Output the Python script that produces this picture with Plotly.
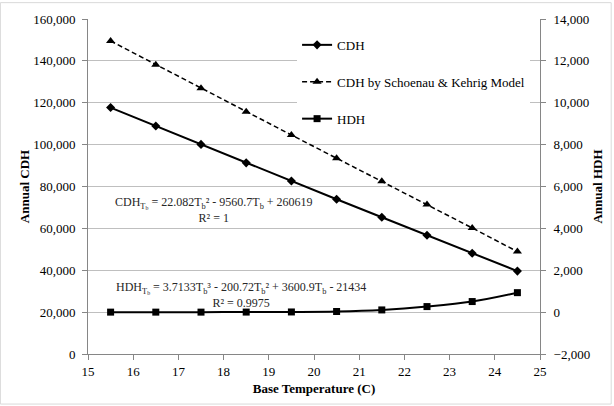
import plotly.graph_objects as go

base_temp = [15.5, 16.5, 17.5, 18.5, 19.5, 20.5, 21.5, 22.5, 23.5, 24.5]
cdh = [117700, 108900, 100100, 91300, 82600, 73900, 65300, 56700, 48100, 39600]
cdh_schoenau = [149500, 138200, 126900, 115700, 104600, 93500, 82500, 71400, 60200, 48900]
hdh = [0, 0, 0, 2, 8, 30, 105, 265, 505, 930]

x_ticks = list(range(15, 26))

FONT = "Liberation Serif"

fig = go.Figure()
fig.add_trace(go.Scatter(
    x=base_temp, y=cdh, name="CDH", mode="lines+markers",
    line=dict(color="black", width=2),
    marker=dict(symbol="diamond", size=7, color="black"),
    legendgroup="a"))
fig.add_trace(go.Scatter(
    x=base_temp, y=cdh_schoenau, name="CDH by Schoenau & Kehrig Model",
    mode="lines+markers",
    line=dict(color="black", width=1.5, dash="5px,3px"),
    marker=dict(symbol="triangle-up", size=8, color="black"),
    legendgroup="b"))
fig.add_trace(go.Scatter(
    x=base_temp, y=hdh, name="HDH", mode="lines+markers", yaxis="y2",
    line=dict(color="black", width=2, shape="spline"),
    marker=dict(symbol="square", size=7, color="black"),
    legendgroup="c"))

fig.add_annotation(
    xref="paper", yref="paper", x=(215 - 88) / 454, y=(355 - 210) / 338,
    xanchor="center", yanchor="middle",
    text="CDH<sub>T<sub>b</sub></sub> = 22.082T<sub>b</sub>² - 9560.7T<sub>b</sub> + 260619<br>R² = 1",
    showarrow=False, align="center", font=dict(family=FONT, size=12, color="#262626"))
fig.add_annotation(
    xref="paper", yref="paper", x=(242 - 88) / 454, y=(355 - 295.5) / 338,
    xanchor="center", yanchor="middle",
    text="HDH<sub>T<sub>b</sub></sub> = 3.7133T<sub>b</sub>³ - 200.72T<sub>b</sub>² + 3600.9T<sub>b</sub> - 21434<br>R² = 0.9975",
    showarrow=False, align="center", font=dict(family=FONT, size=12, color="#262626"))

# outer chart border
fig.add_shape(type="rect", xref="paper", yref="paper",
              x0=-88 / 454, x1=(613.5 - 88) / 454,
              y0=(355 - 405.5) / 338, y1=(355 - 0.5) / 338,
              line=dict(color="#d9d9d9", width=1), fillcolor="rgba(0,0,0,0)", layer="below")

axis_common = dict(
    showline=True, linecolor="#868686", linewidth=1,
    ticks="outside", ticklen=5, tickcolor="#868686",
    tickfont=dict(family=FONT, size=13, color="black"),
    zeroline=False,
)

fig.update_layout(
    width=614, height=406,
    margin=dict(l=88, r=72, t=17, b=51),
    paper_bgcolor="white", plot_bgcolor="white",
    font=dict(family=FONT, size=13, color="black"),
    xaxis=dict(range=[15, 25], tickvals=x_ticks, showgrid=False,
               title=dict(text="<b>Base Temperature (C)</b>", font=dict(family=FONT, size=13), standoff=6),
               **axis_common),
    yaxis=dict(range=[0, 160000], dtick=20000, tickformat=",",
               showgrid=True, gridcolor="#bfbfbf", gridwidth=1, ticklabelstandoff=4,
               title=dict(text="<b>Annual CDH</b>", font=dict(family=FONT, size=13), standoff=0),
               **axis_common),
    yaxis2=dict(range=[-2000, 14000], dtick=2000, tickformat=",",
                overlaying="y", side="right", showgrid=False, ticklabelstandoff=5,
                title=dict(text="<b>Annual HDH</b>", font=dict(family=FONT, size=13), standoff=3),
                **axis_common),
    showlegend=True,
    legend=dict(x=(298 - 88) / 454, y=(355 - 28) / 338, xanchor="left", yanchor="top",
                bgcolor="white", borderwidth=0, tracegroupgap=17,
                font=dict(family=FONT, size=13, color="black")),
)

fig.write_html("out.html")
